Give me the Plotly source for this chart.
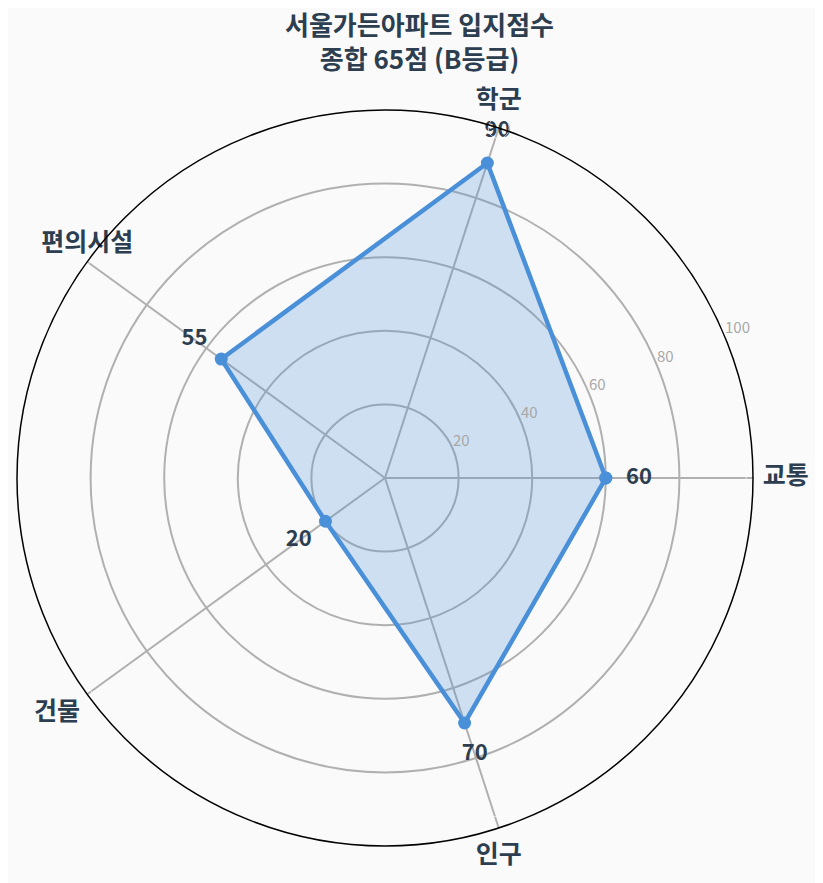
import plotly.graph_objects as go

# 입지 항목별 점수
categories = ['교통', '학군', '편의시설', '건물', '인구']
scores = [60, 90, 55, 20, 70]
radial_ticks = [20, 40, 60, 80, 100]
radial_max = 100
radial_label_angle = 22.5   # 눈금 숫자를 놓을 방향(도)

title_text = '서울가든아파트 입지점수<br>종합 65점 (B등급)'
label_gap = 9       # 점수 라벨을 꼭짓점보다 바깥쪽에 둠

# 항목 이름 배치 (글자 위치와 바깥 원에서 띄우는 간격)
category_pos = ['middle right', 'top center', 'top center', 'bottom left', 'bottom center']
category_pad = [14, 21, 5, 10, 24]

FONT = 'Noto Sans CJK KR'
DARK = '#2c3e50'
BLUE = '#4a90d9'
GRID = '#b0b0b0'
full = dict(x=[0, 1], y=[0, 1])

fig = go.Figure()

# 채워진 레이더 영역 (닫힌 다각형)
fig.add_trace(go.Scatterpolar(
    r=scores + scores[:1],
    theta=categories + categories[:1],
    mode='lines+markers',
    fill='toself',
    fillcolor='rgba(74, 144, 217, 0.25)',
    line=dict(color=BLUE, width=4.5),
    marker=dict(color=BLUE, size=13),
    hoverinfo='skip',
    showlegend=False
))

# 점수 라벨
fig.add_trace(go.Scatterpolar(
    r=[s + label_gap for s in scores],
    theta=categories,
    mode='text',
    text=[str(s) for s in scores],
    textfont=dict(family=FONT, size=22, color=DARK, weight='bold'),
    hoverinfo='skip',
    showlegend=False
))

# 항목 이름 (바깥 원 위에서 바깥쪽으로, 투명 마커로 간격 조절)
fig.add_trace(go.Scatterpolar(
    r=[radial_max] * len(categories),
    theta=categories,
    mode='markers+text',
    text=categories,
    textposition=category_pos,
    marker=dict(size=category_pad, color='rgba(0,0,0,0)'),
    textfont=dict(family=FONT, size=25, color=DARK, weight='bold'),
    cliponaxis=False,
    hoverinfo='skip',
    showlegend=False
))

# 반지름 눈금 숫자 (같은 자리에 겹친 보조 극좌표)
fig.add_trace(go.Scatterpolar(
    r=radial_ticks,
    theta=[radial_label_angle] * len(radial_ticks),
    mode='text',
    text=[str(t) for t in radial_ticks],
    textposition='top right',
    textfont=dict(family=FONT, size=15, color='#a8a8a8'),
    cliponaxis=False,
    hoverinfo='skip',
    showlegend=False,
    subplot='polar2'
))

fig.update_layout(
    width=823,
    height=883,
    paper_bgcolor='#fafafa',
    font=dict(family=FONT, color=DARK),
    title=dict(
        text=title_text,
        x=0.5,
        xanchor='center',
        y=0.969,
        yanchor='top',
        font=dict(family=FONT, size=26, color=DARK, weight='bold')
    ),
    margin=dict(l=9, r=78, t=102, b=45),
    polar=dict(
        domain=full,
        bgcolor='#fafafa',
        radialaxis=dict(
            range=[0, radial_max],
            tickvals=radial_ticks,
            showticklabels=False,
            showline=False,
            ticks='',
            gridcolor=GRID,
            gridwidth=1.5
        ),
        angularaxis=dict(
            rotation=0,
            direction='counterclockwise',
            showline=True,
            linecolor='black',
            linewidth=1.5,
            gridcolor=GRID,
            gridwidth=1.5,
            ticks='',
            showticklabels=False
        )
    ),
    polar2=dict(
        domain=full,
        bgcolor='rgba(0,0,0,0)',
        radialaxis=dict(range=[0, radial_max], visible=False),
        angularaxis=dict(rotation=0, direction='counterclockwise', visible=False)
    )
)

fig.write_html('out.html')
